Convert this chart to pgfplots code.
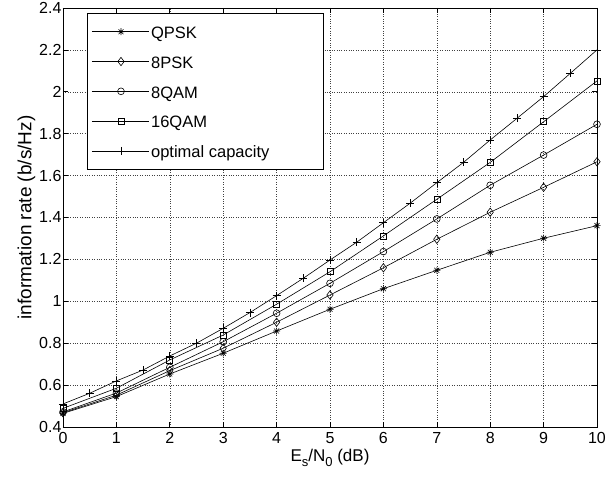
\documentclass[border=0pt]{standalone}
\usepackage{fontspec}
\setmainfont{Liberation Sans}
\usepackage{pgfplots}
\pgfplotsset{compat=1.18}
\makeatletter
\pgfdeclareplotmark{mstar}{%
  \pgfpathmoveto{\pgfqpoint{-\pgfplotmarksize}{0pt}}\pgfpathlineto{\pgfqpoint{\pgfplotmarksize}{0pt}}%
  \pgfpathmoveto{\pgfqpoint{0pt}{-\pgfplotmarksize}}\pgfpathlineto{\pgfqpoint{0pt}{\pgfplotmarksize}}%
  \pgfpathmoveto{\pgfqpoint{-0.707\pgfplotmarksize}{-0.707\pgfplotmarksize}}\pgfpathlineto{\pgfqpoint{0.707\pgfplotmarksize}{0.707\pgfplotmarksize}}%
  \pgfpathmoveto{\pgfqpoint{-0.707\pgfplotmarksize}{0.707\pgfplotmarksize}}\pgfpathlineto{\pgfqpoint{0.707\pgfplotmarksize}{-0.707\pgfplotmarksize}}%
  \pgfusepathqstroke}
\makeatother
\newcommand{\sub}[1]{\raisebox{-5pt}{\fontsize{13}{13}\selectfont #1}}
\begin{document}
\begin{tikzpicture}
\begin{axis}[
  name=ax,
  scale only axis,
  width=534pt, height=419pt,
  xmin=0, xmax=10, ymin=0.4, ymax=2.4,
  xtick={0,1,...,10},
  ytick={0.4,0.6,0.8,1,1.2,1.4,1.6,1.8,2,2.2,2.4},
  yticklabels={0.4,0.6,0.8,1,1.2,1.4,1.6,1.8,2,2.2,2.4},
  /pgf/number format/assume math mode=true,
  tick label style={font=\fontsize{16}{18}\selectfont},
  xticklabel style={yshift=-2pt},
  yticklabel style={xshift=2pt},
  tick align=inside,
  major tick length=5pt,
  tick style={black, line width=0.6pt},
  axis line style={line width=0.9pt},
  grid=major,
  grid style={dotted, black!75, line width=0.5pt},
  xlabel={E\sub{s}/N\sub{0} (dB)},
  ylabel={information rate (b/s/Hz)},
  xlabel style={font=\fontsize{17}{19}\selectfont, yshift=2pt},
  ylabel style={font=\fontsize{19}{21}\selectfont, yshift=-3pt},
  legend style={at={(0.045,0.988)}, anchor=north west, draw=black, line width=0.9pt,
    font=\fontsize{16.5}{19}\selectfont, row sep=9.3pt, inner xsep=4pt, inner ysep=8pt,
    nodes={inner sep=2pt, text height=15pt, text depth=1.5pt},
    cells={anchor=west}},
  legend image code/.code={%
    \path (0pt,0pt) -- (57pt,0pt);
    \draw[overlay, #1, line width=0.6pt, mark repeat=2, mark phase=2] plot coordinates {(4.7pt,0pt) (29.2pt,0pt) (53.7pt,0pt)};},
  every axis plot/.append style={black, line width=0.6pt, mark options={solid, line width=0.6pt, fill=none}},
]
\addplot[mark=mstar, mark size=3.5pt] coordinates {(0,0.465)(1,0.545)(2,0.653)(3,0.752)(4,0.858)(5,0.962)(6,1.060)(7,1.148)(8,1.234)(9,1.301)(10,1.361)};
\addlegendentry{QPSK}
\addplot[mark=diamond, mark size=4.2pt] coordinates {(0,0.468)(1,0.552)(2,0.669)(3,0.776)(4,0.900)(5,1.030)(6,1.160)(7,1.296)(8,1.425)(9,1.544)(10,1.666)};
\addlegendentry{8PSK}
\addplot[mark=o, mark size=3.4pt] coordinates {(0,0.472)(1,0.562)(2,0.685)(3,0.807)(4,0.943)(5,1.086)(6,1.237)(7,1.393)(8,1.554)(9,1.698)(10,1.845)};
\addlegendentry{8QAM}
\addplot[mark=square, mark size=3pt] coordinates {(0,0.489)(1,0.585)(2,0.720)(3,0.839)(4,0.986)(5,1.141)(6,1.312)(7,1.487)(8,1.663)(9,1.857)(10,2.052)};
\addlegendentry{16QAM}
\addplot[mark=+, mark size=4pt] coordinates {(0,0.51)(0.5,0.561)(1,0.62)(1.5,0.672)(2,0.739)(2.5,0.80)(3,0.871)(3.5,0.946)(4,1.027)(4.5,1.11)(5,1.197)(5.5,1.282)(6,1.375)(6.5,1.468)(7,1.566)(7.5,1.663)(8,1.770)(8.5,1.873)(9,1.977)(9.5,2.088)(10,2.2)};
\addlegendentry{\makebox[166pt][l]{optimal capacity}}
\end{axis}
\pgfresetboundingbox
\path ([shift={(-63pt,-51pt)}]ax.south west) rectangle ([shift={(9pt,8pt)}]ax.north east);
\end{tikzpicture}
\end{document}
